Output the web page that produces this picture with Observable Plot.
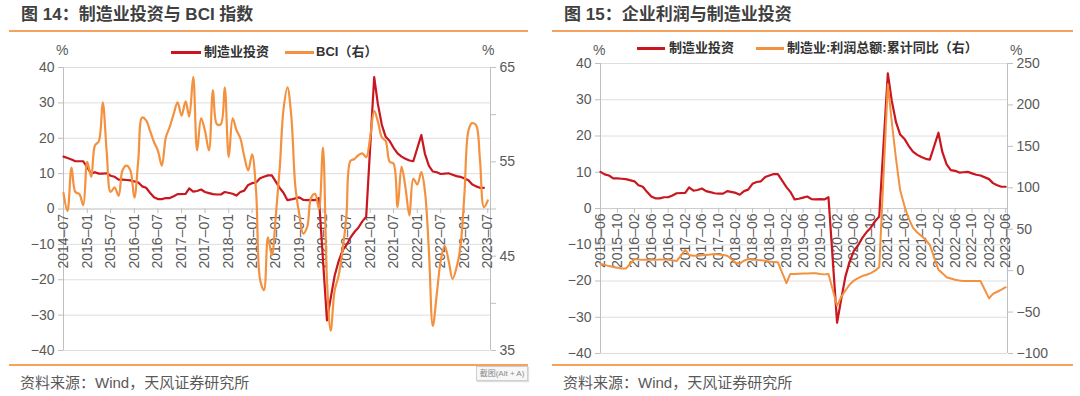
<!DOCTYPE html>
<html>
<head>
<meta charset="utf-8">
<script src="https://cdn.jsdelivr.net/npm/d3@7"></script>
<script src="https://cdn.jsdelivr.net/npm/@observablehq/plot@0.6"></script>
<style>
  html, body { margin:0; padding:0; }
  body { width:1080px; height:396px; background:#fff; position:relative; overflow:hidden;
         font-family:"Liberation Sans", Arial, "Noto Sans CJK SC", sans-serif; }
  .abs { position:absolute; white-space:nowrap; line-height:20px; z-index:2; }
  .title { font-size:17px; font-weight:bold; color:#404040; }
  .leg { font-size:13px; font-weight:bold; color:#333; }
  .unit { font-size:14px; color:#595959; }
  .cap { font-size:15px; color:#595959; }
  .hr { position:absolute; height:1.5px; background:#f4a25e; z-index:2; }
  .sw { position:absolute; height:2.5px; z-index:2; }
  .panel { position:absolute; top:0; width:540px; height:396px; z-index:1; }
  .shot { position:absolute; left:476px; top:366px; width:50px; height:13px; border:1px solid #cfcfcf;
          background:#f7f7f7; font-size:8px; line-height:13px; color:#8a8a8a; text-align:center; z-index:3;
          box-shadow:1px 1px 1px #ddd; }
</style>
</head>
<body>
<div id="left" class="panel" style="left:0"></div>
<div id="right" class="panel" style="left:540px"></div>

<div class="abs title" style="left:21px;top:5px">图 14：制造业投资与 BCI 指数</div>
<div class="hr" style="left:9px;top:30px;width:519px"></div>
<div class="abs unit" style="left:56px;top:40px">%</div>
<div class="sw" style="left:171px;top:51px;width:30px;background:#c8171e"></div>
<div class="abs leg" style="left:204px;top:42px">制造业投资</div>
<div class="sw" style="left:285px;top:51px;width:29px;background:#f4913f"></div>
<div class="abs leg" style="left:316px;top:42px">BCI（右）</div>
<div class="abs unit" style="left:482px;top:40px">%</div>
<div class="hr" style="left:9px;top:364px;width:519px"></div>
<div class="abs cap" style="left:20px;top:373px">资料来源：Wind，天风证券研究所</div>
<div class="shot">截图(Alt + A)</div>

<div class="abs title" style="left:564px;top:5px">图 15：企业利润与制造业投资</div>
<div class="hr" style="left:552px;top:30px;width:521px"></div>
<div class="abs unit" style="left:593px;top:40px">%</div>
<div class="sw" style="left:637px;top:47px;width:28px;background:#c8171e"></div>
<div class="abs leg" style="left:669px;top:38px">制造业投资</div>
<div class="sw" style="left:756px;top:47px;width:28px;background:#f4913f"></div>
<div class="abs leg" style="left:787px;top:38px">制造业:利润总额:累计同比（右）</div>
<div class="abs unit" style="left:1010px;top:40px">%</div>
<div class="hr" style="left:552px;top:364px;width:521px"></div>
<div class="abs cap" style="left:563px;top:373px">资料来源：Wind，天风证券研究所</div>

<script>
// ---------------- data ----------------
// 制造业投资 累计同比 (%), Jan not published
const invMonths = [
  "2014-07","2014-08","2014-09","2014-10","2014-11","2014-12",
  "2015-02","2015-03","2015-04","2015-05","2015-06","2015-07","2015-08","2015-09","2015-10","2015-11","2015-12",
  "2016-02","2016-03","2016-04","2016-05","2016-06","2016-07","2016-08","2016-09","2016-10","2016-11","2016-12",
  "2017-02","2017-03","2017-04","2017-05","2017-06","2017-07","2017-08","2017-09","2017-10","2017-11","2017-12",
  "2018-02","2018-03","2018-04","2018-05","2018-06","2018-07","2018-08","2018-09","2018-10","2018-11","2018-12",
  "2019-02","2019-03","2019-04","2019-05","2019-06","2019-07","2019-08","2019-09","2019-10","2019-11","2019-12",
  "2020-02","2020-03","2020-04","2020-05","2020-06","2020-07","2020-08","2020-09","2020-10","2020-11","2020-12",
  "2021-02","2021-03","2021-04","2021-05","2021-06","2021-07","2021-08","2021-09","2021-10","2021-11","2021-12",
  "2022-02","2022-03","2022-04","2022-05","2022-06","2022-07","2022-08","2022-09","2022-10","2022-11","2022-12",
  "2023-02","2023-03","2023-04","2023-05","2023-06"
];
const invValues = [
  14.8,14.4,14.0,13.5,13.5,13.5,
  10.0,10.4,10.0,10.0,10.1,9.4,9.1,8.3,8.3,8.2,8.1,
  7.5,6.4,6.0,4.6,3.3,2.8,2.8,3.1,3.1,3.6,4.2,
  4.3,5.8,4.9,5.1,5.5,4.8,4.5,4.2,4.1,4.1,4.8,
  4.3,3.8,4.8,5.2,6.8,7.3,7.5,8.7,9.1,9.5,9.5,
  5.9,4.6,2.5,2.7,3.0,3.3,2.6,2.5,2.6,2.5,3.1,
  -31.5,-25.2,-18.8,-14.8,-11.7,-10.2,-8.1,-6.5,-5.3,-3.5,-2.2,
  37.3,29.8,23.8,20.4,19.2,17.3,15.7,14.8,14.2,13.7,13.5,
  20.9,15.6,12.2,10.6,10.4,9.9,10.0,10.1,9.7,9.3,9.1,
  8.1,7.0,6.4,6.0,6.0
];

// BCI 指数, monthly from 2014-07 to 2023-07
const bciStart = "2014-07";
const bciValues = [
  51.7,49.8,54.4,51.8,51.6,50.4,55.0,53.4,56.7,57.2,61.3,56.0,
  51.8,52.3,51.4,54.1,54.6,54.1,51.2,55.3,59.7,59.4,58.3,57.1,
  56.2,54.6,57.6,58.7,60.1,61.3,59.9,61.4,59.8,64.0,56.2,59.6,
  58.3,56.2,62.6,59.0,59.0,62.9,55.5,59.6,58.4,57.5,55.6,54.1,
  55.8,51.9,42.5,41.4,47.0,45.1,49.3,54.5,60.5,62.9,59.8,52.4,
  49.5,47.4,48.1,51.2,51.6,50.0,56.5,42.5,37.1,41.4,42.9,45.6,
  49.3,55.1,55.3,55.7,55.9,55.5,57.6,60.4,59.3,57.6,57.2,55.0,
  54.8,50.2,54.5,52.3,49.3,53.2,52.6,53.9,51.9,45.5,37.6,41.0,
  44.5,46.1,44.5,42.6,43.8,46.0,51.6,58.3,59.1,58.9,55.3,50.2,
  50.9
];

// 制造业:利润总额:累计同比 (%)
const profitMonths = [
  "2015-06","2015-07","2015-08","2015-09","2015-10","2015-11","2015-12",
  "2016-02","2016-03","2016-04","2016-05","2016-06","2016-07","2016-08","2016-09","2016-10","2016-11","2016-12",
  "2017-02","2017-03","2017-04","2017-05","2017-06","2017-07","2017-08","2017-09","2017-10","2017-11","2017-12",
  "2018-02","2018-03","2018-04","2018-05","2018-06","2018-07","2018-08","2018-09","2018-10","2018-11","2018-12",
  "2019-02","2019-03","2019-04","2019-05","2019-06","2019-07","2019-08","2019-09","2019-10","2019-11","2019-12",
  "2020-02","2020-03","2020-04","2020-05","2020-06","2020-07","2020-08","2020-09","2020-10","2020-11","2020-12",
  "2021-02","2021-03","2021-04","2021-05","2021-06","2021-07","2021-08","2021-09","2021-10","2021-11","2021-12",
  "2022-02","2022-03","2022-04","2022-05","2022-06","2022-07","2022-08","2022-09","2022-10","2022-11","2022-12",
  "2023-02","2023-03","2023-04","2023-05","2023-06"
];
const profitValues = [
  8,7,5.5,4.5,3.5,2.5,2.5,
  14,13.5,13,13,13,13,13.5,13.5,13,12.5,11.5,
  25,19,18,18,18.5,19,19.5,20,19.5,19,18,
  9.5,8.5,12,14,13,13,12.5,12,11,10.5,10,
  -15,-4,-4,-3.8,-3.5,-3.3,-3,-3.2,-4,-4.5,-4,
  -42.5,-32,-24,-17,-12,-9,-6.5,-5,-3,0,4,
  225,180,135,97,78,63,52,46,42,37,31,
  1,-3,-8,-9.5,-11,-12,-12.5,-12.5,-12.5,-12.5,-12.5,
  -33.5,-28,-25.5,-23,-20
];

// axis ticks
const leftYTicks = [-40,-30,-20,-10,0,10,20,30,40];
const bciTicks = [35,40,45,50,55,60,65];
const bciTickLabels = [35,45,55,65];
const profitTicks = [-100,-50,0,50,100,150,200,250];
const leftXTicks = ["2014-07","2015-01","2015-07","2016-01","2016-07","2017-01","2017-07","2018-01","2018-07",
  "2019-01","2019-07","2020-01","2020-07","2021-01","2021-07","2022-01","2022-07","2023-01","2023-07"];
const rightXTicks = ["2015-06","2015-10","2016-02","2016-06","2016-10","2017-02","2017-06","2017-10","2018-02",
  "2018-06","2018-10","2019-02","2019-06","2019-10","2020-02","2020-06","2020-10","2021-02","2021-06","2021-10",
  "2022-02","2022-06","2022-10","2023-02","2023-06"];

// ---------------- build ----------------
const RED = "#c8171e", ORANGE = "#f4913f", GRID = "#dedede", AXIS = "#bfbfbf", TXT = "#595959";
const parse = d3.utcParse("%Y-%m");
const minus = n => n < 0 ? "\u2212" + Math.abs(n) : String(n);
const dash = s => s.replace("-", "\u2013");

const invData = invMonths.map((m, i) => ({date: parse(m), value: invValues[i]}));
const bciData = bciValues.map((v, i) => ({date: d3.utcMonth.offset(parse(bciStart), i), value: v}));
const profitData = profitMonths.map((m, i) => ({date: parse(m), value: profitValues[i]}));

// secondary-axis mappings onto the primary (%) scale
const bciToY = b => (b - 50) / 0.375;
const yToBci = y => Math.round(50 + 0.375 * y);
const prToY = r => (r - 75) / 4.375;
const yToPr = y => Math.round(75 + 4.375 * y);

const style = {fontFamily: "'Liberation Sans', Arial, sans-serif", fontSize: "14px", color: TXT, background: "transparent", overflow: "visible"};

function panel({xDomain, marginLeft, marginRight, marginTop, marginBottom, rightTicks, rightFmt, xTicks, series2, tickLen}) {
  return Plot.plot({
    width: 540, height: 396, marginLeft, marginRight, marginTop, marginBottom, style,
    x: {type: "utc", domain: xDomain, axis: null, label: null},
    y: {domain: [-40, 40], axis: null, label: null},
    marks: [
      Plot.ruleY(leftYTicks, {stroke: GRID}),
      Plot.ruleY([0], {stroke: "#cdcdcd"}),
      Plot.ruleX([xDomain[0], xDomain[1]], {stroke: AXIS}),
      Plot.axisY(leftYTicks, {anchor: "left", label: null, tickSize: 5, tickPadding: 4, stroke: AXIS, fill: TXT, fontSize: 14, tickFormat: minus}),
      Plot.axisY(rightTicks, {anchor: "right", label: null, tickSize: 5, tickPadding: 4, stroke: AXIS, fill: TXT, fontSize: 14, tickFormat: rightFmt}),
      Plot.ruleX(xTicks, {x: d => parse(d), y1: () => 0, y2: () => -tickLen, stroke: AXIS}),
      Plot.text(xTicks, {x: d => parse(d), y: () => 0, text: dash, rotate: -90, textAnchor: "end", lineAnchor: "middle",
                         dy: 5, fontSize: 14, fill: TXT}),
      Plot.line(invData.filter(d => d.date >= xDomain[0]), {x: "date", y: "value", stroke: RED, strokeWidth: 2.2}),
      series2
    ]
  });
}

const leftDomain = [parse("2014-07"), new Date(Date.UTC(2023, 6, 22))];
document.getElementById("left").append(panel({
  xDomain: leftDomain, marginLeft: 63, marginRight: 50, marginTop: 67, marginBottom: 46,
  rightTicks: bciTicks.map(bciToY),
  rightFmt: y => bciTickLabels.includes(yToBci(y)) ? String(yToBci(y)) : "",
  xTicks: leftXTicks, tickLen: 1.3,
  series2: Plot.line(bciData, {x: "date", y: d => bciToY(d.value), stroke: ORANGE, strokeWidth: 2.2, curve: "catmull-rom"})
}));

const rightDomain = [parse("2015-06"), new Date(Date.UTC(2023, 5, 14))];
document.getElementById("right").append(panel({
  xDomain: rightDomain, marginLeft: 60, marginRight: 73, marginTop: 63, marginBottom: 43,
  rightTicks: profitTicks.map(prToY),
  rightFmt: y => minus(yToPr(y)),
  xTicks: rightXTicks, tickLen: 1.3,
  series2: Plot.line(profitData, {x: "date", y: d => prToY(d.value), stroke: ORANGE, strokeWidth: 2})
}));
</script>
</body>
</html>
